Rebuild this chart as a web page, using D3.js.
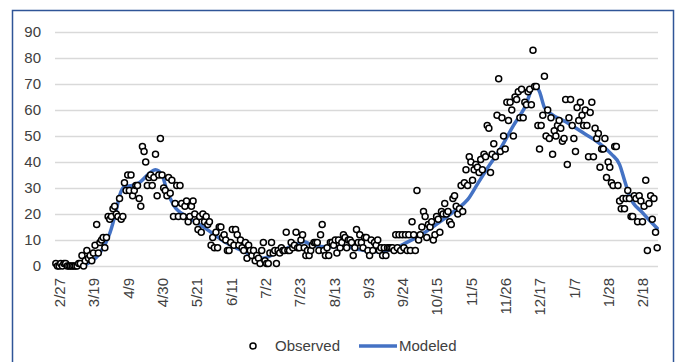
<!DOCTYPE html>
<html>
<head>
<meta charset="utf-8">
<script src="https://cdn.jsdelivr.net/npm/d3@7/dist/d3.min.js"></script>
<style>
  html, body { margin: 0; padding: 0; background: #fff; }
  svg { display: block; font-family: "Liberation Sans", Arial, sans-serif; }
</style>
</head>
<body>
<svg id="chart" width="677" height="362"></svg>
<script>
// Daily observed counts, starting 2020-02-25
const observedStart = "2020-02-25";
const observedValues = [
  1,0,0,1,0,1,1,0,0,0,
  0,0,0,0,1,1,4,0,2,6,
  3,4,2,5,8,16,5,9,10,11,
  7,11,19,18,19,22,23,20,19,26,
  18,19,32,29,35,29,35,27,29,31,
  31,26,23,46,44,40,31,34,35,31,
  34,43,27,35,49,35,30,29,27,34,
  28,33,19,24,31,19,31,24,19,23,
  25,17,19,23,25,20,17,14,19,13,
  20,17,19,16,17,8,11,7,13,7,
  15,15,11,12,10,6,6,9,14,8,
  14,12,8,10,7,6,9,3,8,6,
  4,6,2,4,3,1,6,9,2,1,
  1,5,9,5,6,1,6,5,7,6,
  6,13,6,6,9,7,8,13,7,7,
  10,12,7,4,6,4,6,8,9,9,
  9,6,12,16,6,4,7,4,9,9,
  8,10,5,10,7,9,12,11,7,10,
  10,9,4,7,14,9,12,9,7,11,
  11,6,4,10,6,9,8,10,6,7,
  4,7,4,7,7,7,7,6,12,7,
  12,6,12,7,12,6,12,6,17,12,
  6,29,10,12,15,21,19,11,16,15,
  17,10,12,19,18,13,21,20,24,20,
  21,17,16,26,27,23,20,22,31,21,
  32,37,31,42,40,33,37,39,38,36,
  41,37,43,42,54,53,36,43,47,42,
  58,72,44,57,50,45,63,56,63,60,
  50,65,64,67,57,68,57,63,62,67,
  68,62,83,69,69,54,45,54,58,73,
  50,60,49,57,43,52,50,54,56,53,
  48,49,64,39,57,64,54,49,44,61,
  56,63,58,54,60,54,42,59,63,42,
  53,49,51,38,45,45,49,34,40,38,
  32,31,46,46,31,25,22,26,22,26,
  29,26,19,19,27,26,17,27,25,17,
  23,33,6,24,27,18,26,13,7
];

// Modeled curve
const modeledDates = [
  "2020-02-25","2020-03-12","2020-03-14","2020-03-23","2020-03-29","2020-04-02",
  "2020-04-04","2020-04-07","2020-04-12","2020-04-16","2020-04-22","2020-04-26",
  "2020-04-30","2020-05-03","2020-05-07","2020-05-15","2020-05-23","2020-05-31",
  "2020-06-08","2020-06-16","2020-06-24","2020-07-01","2020-07-08","2020-07-16",
  "2020-07-22","2020-07-26","2020-07-31","2020-08-08","2020-08-20","2020-08-30",
  "2020-09-09","2020-09-19","2020-09-26","2020-10-06","2020-10-16","2020-10-26",
  "2020-11-03","2020-11-09","2020-11-15","2020-11-23","2020-12-01","2020-12-08",
  "2020-12-14","2020-12-17","2020-12-20","2020-12-24","2021-01-02","2021-01-12",
  "2021-01-22","2021-01-30","2021-02-04","2021-02-07","2021-02-10","2021-02-18",
  "2021-02-27"
];
const modeledValues = [
  0,0,0.5,5,12.5,21.5,
  27,30.5,31,32,35.5,37,
  35,29,23.5,19,16,12.5,
  9,6.5,4.2,3,4.8,7,
  8.5,9.3,8,7.4,7.4,6.2,
  5.5,6.8,8.8,12.2,16.5,21.2,
  25.5,31.5,37.5,45,54,61,
  69.5,67,61,58.5,55.5,51.5,
  47.5,43,39,33,27,20.5,
  14.5
];

// Axis ticks
const xTickDates = [
  "2020-02-27","2020-03-19","2020-04-09","2020-04-30","2020-05-21","2020-06-11",
  "2020-07-02","2020-07-23","2020-08-13","2020-09-03","2020-09-24","2020-10-15",
  "2020-11-05","2020-11-26","2020-12-17","2021-01-07","2021-01-28","2021-02-18"
];
const yTicks = [0,10,20,30,40,50,60,70,80,90];

const seriesNames = ["Observed", "Modeled"];

const parse = d3.utcParse("%Y-%m-%d");
const DAY = 86400000;
const start = parse(observedStart);
const observed = observedValues.map((v, i) => ({ date: new Date(start.getTime() + i * DAY), value: v }));
const modeled = modeledDates.map((d, i) => ({ date: parse(d), value: modeledValues[i] }));

const svg = d3.select("#chart");
const plot = { left: 55, right: 658, top: 32, bottom: 266 };
const textColor = "#404040";

const x = d3.scaleUtc()
  .domain([new Date(start.getTime() - DAY / 2),
           new Date(observed[observed.length - 1].date.getTime() + DAY / 2)])
  .range([plot.left, plot.right]);
const y = d3.scaleLinear().domain([0, 90]).range([plot.bottom, plot.top]);

// Outer frame
svg.append("rect")
  .attr("x", 12.5).attr("y", 10.5)
  .attr("width", 661).attr("height", 380)
  .attr("fill", "#fff")
  .attr("stroke", "#2F5597").attr("stroke-width", 1.5);

// Horizontal gridlines and y labels
const yAxis = d3.axisLeft(y).tickValues(yTicks)
  .tickSize(-(plot.right - plot.left)).tickPadding(14).tickFormat(d3.format("d"));
const gy = svg.append("g").attr("transform", `translate(${plot.left},0)`).call(yAxis);
gy.select(".domain").remove();
gy.selectAll(".tick line").attr("stroke", "#D9D9D9").attr("stroke-width", 1.3);
gy.selectAll(".tick text").attr("fill", textColor).attr("font-size", 15)
  .attr("font-family", "Liberation Sans, Arial, sans-serif");

// X axis with rotated date labels
const xAxis = d3.axisBottom(x).tickValues(xTickDates.map(parse))
  .tickSize(0).tickFormat(d3.utcFormat("%-m/%-d"));
const gx = svg.append("g").attr("transform", `translate(0,${plot.bottom})`).call(xAxis);
gx.select(".domain").remove();
gx.selectAll(".tick text")
  .attr("fill", textColor).attr("font-size", 15)
  .attr("font-family", "Liberation Sans, Arial, sans-serif")
  .attr("text-anchor", "end")
  .attr("transform", "rotate(-90)")
  .attr("x", -12).attr("y", 0).attr("dy", "0.36em");

// Modeled line
const line = d3.line().x(d => x(d.date)).y(d => y(d.value)).curve(d3.curveMonotoneX);
svg.append("path").datum(modeled)
  .attr("d", line)
  .attr("fill", "none")
  .attr("stroke", "#4472C4").attr("stroke-width", 3.5)
  .attr("stroke-linejoin", "round").attr("stroke-linecap", "round");

// Observed markers
svg.append("g").selectAll("circle").data(observed).join("circle")
  .attr("cx", d => x(d.date)).attr("cy", d => y(d.value))
  .attr("r", 3)
  .attr("fill", "#fff").attr("stroke", "#000").attr("stroke-width", 1.5);

// Legend
const lg = svg.append("g").attr("font-size", 15).attr("fill", textColor);
lg.append("circle").attr("cx", 253).attr("cy", 346).attr("r", 3)
  .attr("fill", "#fff").attr("stroke", "#000").attr("stroke-width", 1.5);
lg.append("text").attr("x", 275).attr("y", 346).attr("dy", "0.35em").text(seriesNames[0]);
lg.append("line").attr("x1", 359).attr("x2", 397).attr("y1", 346).attr("y2", 346)
  .attr("stroke", "#4472C4").attr("stroke-width", 3.5);
lg.append("text").attr("x", 399).attr("y", 346).attr("dy", "0.35em").text(seriesNames[1]);
</script>
</body>
</html>
